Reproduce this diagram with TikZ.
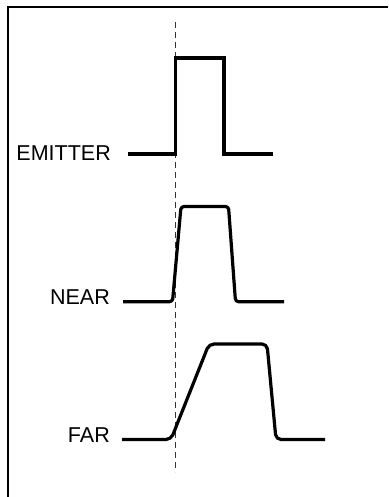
\documentclass[tikz,border=0pt]{standalone}
\usepackage{fontspec}
\setmainfont{Liberation Sans}
\begin{document}
\begin{tikzpicture}[x=1pt,y=-1pt,
  signal/.style={line width=3.2pt, line join=round, line cap=butt},
  marker/.style={line width=0.9pt, dash pattern=on 6pt off 4pt, black!80},
  frameline/.style={line width=1.8pt},
  tag/.style={anchor=base east, inner sep=0pt, font=\fontsize{21.5}{25}\selectfont}]
\useasboundingbox (0,0) rectangle (388,497);
% open frame (top and left edges)
\coordinate (fbl) at (8,497);
\coordinate (ftl) at (8,7);
\coordinate (ftr) at (388,7);
\draw[frameline] (fbl) -- (ftl) -- (ftr);

% time reference marker
\coordinate (mtop) at (175.7,22);
\coordinate (mbot) at (175.7,472);
\draw[marker] (mtop) -- (mbot);

% labels
\node[tag] (emitter) at (111,160.5) {EMITTER};
\node[tag] (near)    at (110,304.5) {NEAR};
\node[tag] (far)     at (110,442) {FAR};

% emitter: ideal square pulse
\coordinate (e0) at (128,154);
\coordinate (e1) at (175.7,154);
\coordinate (e2) at (175.7,58);
\coordinate (e3) at (224,58);
\coordinate (e4) at (224,154);
\coordinate (e5) at (273,154);
\draw[signal, line join=miter] (e0) -- (e1) -- (e2) -- (e3) -- (e4) -- (e5);

% near: slightly slowed edges
\coordinate (n0) at (123,301.7);
\coordinate (n1) at (172.5,301.7);
\coordinate (n2) at (181,206.5);
\coordinate (n3) at (228.5,206.5);
\coordinate (n4) at (235.5,301.7);
\coordinate (n5) at (284,301.7);
\draw[signal, rounded corners=3pt] (n0) -- (n1) -- (n2) -- (n3) -- (n4) -- (n5);

% far: strongly degraded rising edge
\coordinate (f0) at (122,439.5);
\coordinate (f1) at (171,439.5);
\coordinate (f2) at (209,344);
\coordinate (f3) at (267,344);
\coordinate (f4) at (276,439.5);
\coordinate (f5) at (325,439.5);
\draw[signal, rounded corners=5pt] (f0) -- (f1) -- (f2) -- (f3) -- (f4) -- (f5);
\end{tikzpicture}
\end{document}
